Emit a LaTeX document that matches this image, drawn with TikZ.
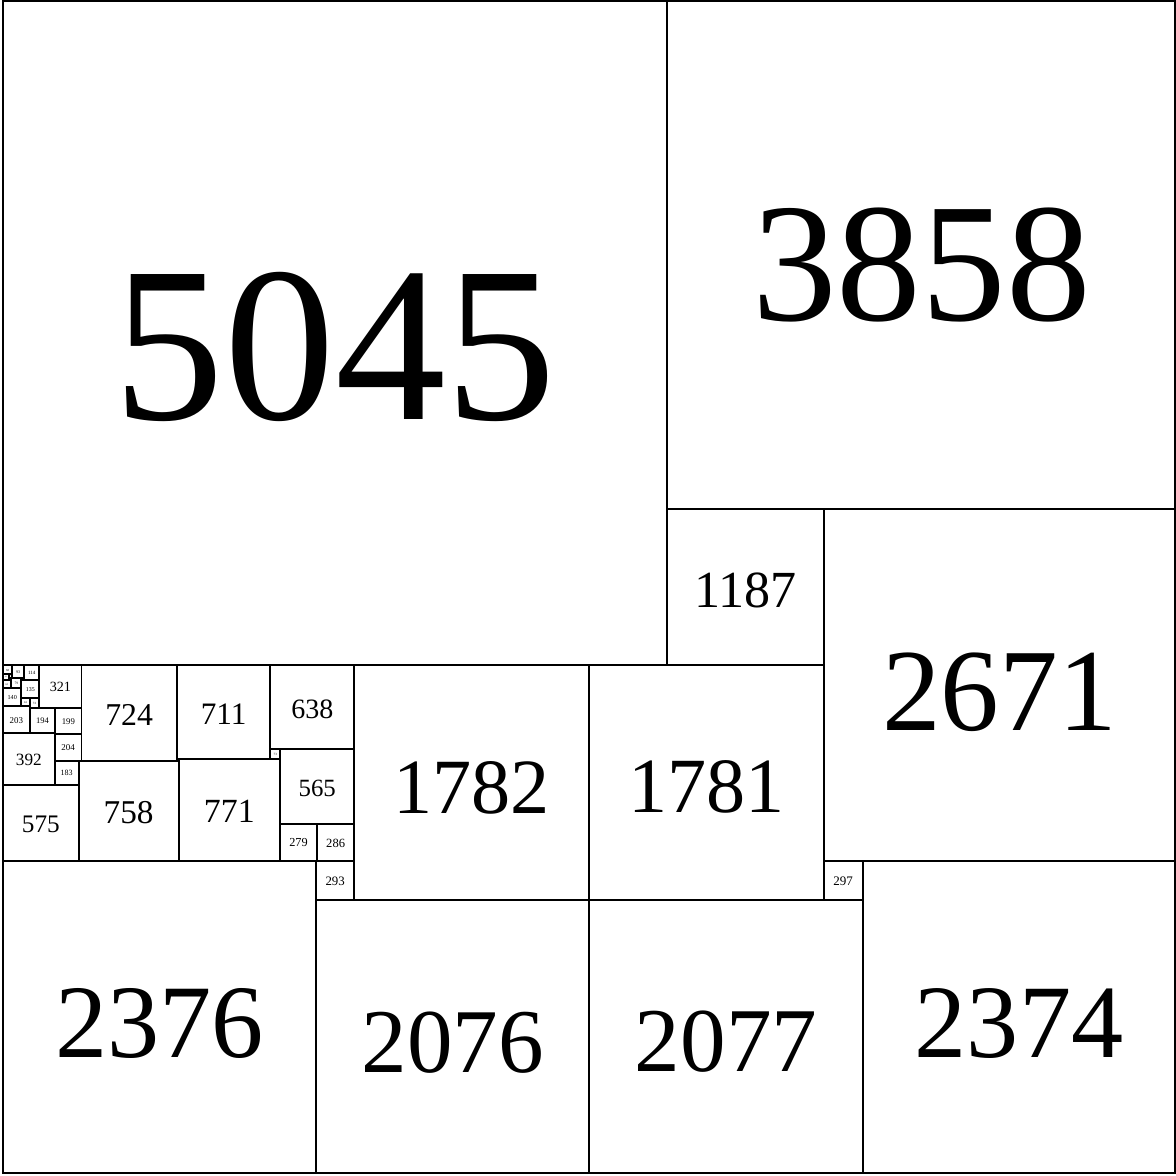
\documentclass[tikz,border=0pt]{standalone}
\usepackage{fontspec}
\setmainfont{Liberation Serif}
\begin{document}
\begin{tikzpicture}[x=0.1pt,y=-0.1pt,
  sqline/.style={draw=black,line width=1.5pt},
  sqlabel/.style={inner sep=0pt,text=black}]
\useasboundingbox (-23,-8) rectangle (8908,8916);
\foreach \qx/\qy/\qs in {
  0/0/5045, 5045/0/3858, 5045/3858/1187, 6232/3858/2671,
  6232/6529/297, 6529/6529/2374, 4451/5045/1781, 4452/6826/2077,
  4451/6826/1, 2669/5045/1782, 2376/6827/2076, 0/6527/2376,
  2376/6534/293, 2376/6527/7, 2383/6248/286, 2104/6248/279,
  2104/5683/565, 2031/5045/638, 2031/5683/73, 1320/5045/711,
  1333/5756/771, 1320/5756/13, 596/5045/724, 575/5769/758,
  0/5952/575, 392/5769/183, 0/5560/392, 392/5565/204,
  392/5560/5, 397/5366/199, 203/5366/194, 0/5357/203,
  275/5045/321, 203/5294/72, 140/5294/63, 140/5159/135,
  0/5217/140, 161/5045/114, 140/5138/21, 68/5045/93,
  61/5138/79, 0/5156/61, 0/5045/68, 0/5113/43,
  43/5113/25, 43/5138/18}
{
  \draw[sqline] (\qx,\qy) rectangle ++(\qs,\qs);
  \ifnum\qs>9
    \pgfmathsetmacro\qf{\qs/30}
    \node[sqlabel,font=\fontsize{\qf pt}{\qf pt}\selectfont] (n\qs) at (\qx+\qs/2,\qy+\qs*0.52) {\qs};
  \fi
}
\end{tikzpicture}
\end{document}
